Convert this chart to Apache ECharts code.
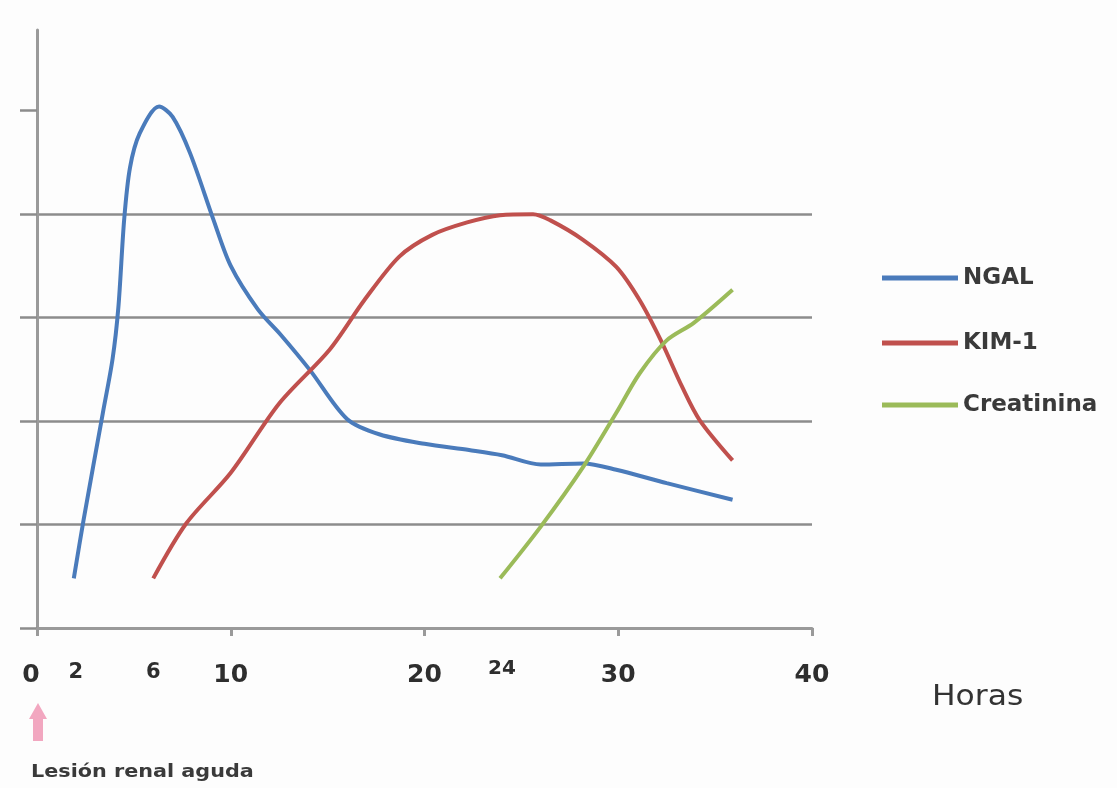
<!DOCTYPE html>
<html>
<head>
<meta charset="utf-8">
<title>Biomarcadores tras lesión renal aguda</title>
<script src="https://cdn.jsdelivr.net/npm/echarts@6/dist/echarts.min.js"></script>
<style>
  html, body { margin: 0; padding: 0; background: #fdfdfd; }
  #chart { width: 1117px; height: 788px; }
</style>
</head>
<body>
<div id="chart"></div>
<script>
// Hours after the injury and relative level of each biomarker
const ngalHours = [1.9, 2.4, 3.4, 3.9, 4.2, 4.5, 4.8, 5.3, 6.3, 7.0, 7.9, 9.1, 10.0, 11.4, 12.6, 14.1, 16.0, 17.7, 20.0, 22.3, 24.0, 26.0, 28.2, 29.9, 32.5, 35.9];
const ngalValues = [0.48, 1.04, 2.08, 2.6, 3.1, 3.95, 4.45, 4.78, 5.04, 4.94, 4.59, 3.95, 3.5, 3.08, 2.83, 2.49, 2.02, 1.87, 1.78, 1.72, 1.67, 1.58, 1.59, 1.53, 1.40, 1.24];

const kimHours = [6.0, 7.7, 10.0, 12.5, 15.1, 16.9, 18.7, 20.4, 22.2, 23.9, 25.6, 26.5, 28.2, 29.9, 31.1, 32.2, 33.3, 34.2, 35.9];
const kimValues = [0.48, 1.01, 1.5, 2.17, 2.69, 3.17, 3.59, 3.8, 3.92, 3.99, 4.0, 3.94, 3.75, 3.49, 3.17, 2.78, 2.33, 2.01, 1.62];

const creatHours = [23.9, 26.0, 28.2, 29.9, 31.1, 32.5, 33.9, 35.9];
const creatValues = [0.48, 0.98, 1.56, 2.08, 2.46, 2.78, 2.95, 3.27];

const seriesNames = ['NGAL', 'KIM-1', 'Creatinina'];
const seriesColors = ['#4a7bbb', '#c0504d', '#9bbb59'];

// Axis ticks and labels
const xTickValues = [0, 10, 20, 30, 40];
const xLabelValues = [0, 2, 6, 10, 20, 24, 30, 40];
const yTickValues = [0, 1, 2, 3, 4, 5];

const zip = (xs, ys) => xs.map((x, i) => [x, ys[i]]);
const seriesData = [
  zip(ngalHours, ngalValues),
  zip(kimHours, kimValues),
  zip(creatHours, creatValues)
];

const FONT = 'DejaVu Sans';
const gridColor = '#8c8c8c';
const axisColor = '#9a9a9a';
const legendCenters = [278, 343, 405];

const chart = echarts.init(document.getElementById('chart'), null, { renderer: 'canvas' });

chart.setOption({
  backgroundColor: '#fdfdfd',
  animation: false,
  grid: { left: 37, right: 305, top: 30, bottom: 160, containLabel: false },
  legend: seriesNames.map((name, i) => ({
    data: [name],
    orient: 'vertical',
    left: 882,
    top: legendCenters[i] - 12,
    padding: 0,
    icon: 'rect',
    itemWidth: 76,
    itemHeight: 5,
    selectedMode: false,
    textStyle: { fontFamily: FONT, fontSize: 23, fontWeight: 'bold', color: '#3a3a3a', lineHeight: 24 }
  })),
  xAxis: {
    type: 'value',
    min: 0,
    max: 40,
    interval: 10,
    axisLine: { show: true, lineStyle: { color: axisColor, width: 3 } },
    axisTick: { show: true, customValues: xTickValues, length: 8, lineStyle: { color: axisColor, width: 3 } },
    splitLine: { show: false },
    axisLabel: {
      customValues: xLabelValues,
      margin: 34,
      color: '#2e2e2e',
      fontFamily: FONT,
      formatter: function (v) {
        if (v === 0) return '{z|0}';
        if (v === 24) return '{r|24}';
        if (v === 2 || v === 6) return '{s|' + v + '}';
        return '{b|' + v + '}';
      },
      rich: {
        b: { fontFamily: FONT, fontSize: 25, fontWeight: 'bold', color: '#2e2e2e', lineHeight: 26 },
        z: { fontFamily: FONT, fontSize: 25, fontWeight: 'bold', color: '#2e2e2e', lineHeight: 26, padding: [0, 12, 0, 0] },
        s: { fontFamily: FONT, fontSize: 21, fontWeight: 'bold', color: '#2e2e2e', lineHeight: 22 },
        r: { fontFamily: FONT, fontSize: 20, fontWeight: 'bold', color: '#2e2e2e', lineHeight: 14 }
      }
    }
  },
  yAxis: {
    type: 'value',
    min: 0,
    max: 5.78,
    interval: 1,
    axisLine: { show: true, lineStyle: { color: axisColor, width: 3 } },
    axisTick: { show: true, customValues: yTickValues, length: 17, lineStyle: { color: gridColor, width: 2.5 } },
    axisLabel: { show: false },
    splitLine: { show: true, showMaxLine: false, lineStyle: { color: gridColor, width: 2.5 } }
  },
  series: seriesNames.map((name, i) => ({
    name: name,
    type: 'line',
    data: seriesData[i],
    smooth: 0.3,
    showSymbol: false,
    symbol: 'none',
    lineStyle: { color: seriesColors[i], width: 4 },
    itemStyle: { color: seriesColors[i] },
    z: 3 + i
  })),
  graphic: [
    {
      type: 'text',
      x: 932, y: 698,
      scaleX: 1.12,
      style: { text: 'Horas', fontFamily: FONT, fontSize: 28, fill: '#333333', textVerticalAlign: 'middle' }
    },
    {
      type: 'polygon',
      shape: { points: [[38, 703], [47, 719], [43, 719], [43, 741], [33, 741], [33, 719], [29, 719]] },
      style: { fill: '#f2a7c0' }
    },
    {
      type: 'text',
      x: 31, y: 773,
      scaleX: 1.22,
      style: { text: 'Lesión renal aguda', fontFamily: FONT, fontSize: 17, fontWeight: 'bold', fill: '#3a3a3a', textVerticalAlign: 'middle' }
    }
  ]
});
</script>
</body>
</html>
